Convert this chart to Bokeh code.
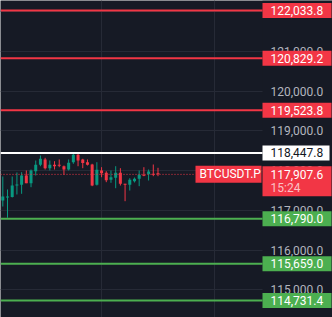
from bokeh.plotting import figure
from bokeh.models import Range1d, FixedTicker, Grid
from bokeh.embed import file_html
from bokeh.resources import INLINE
from bokeh.core.properties import value

# ---- data ----
opens = [117250, 117325, 117338, 117627, 117645, 117879, 117685, 117987, 118149, 118282,
         118063, 118149, 118150, 118113, 118030, 118214, 118400, 118282, 118214, 118156,
         117645, 118005, 117947, 117773, 117821, 117947, 117670, 117645, 117736, 117796,
         117897, 117912, 117922, 117935]
highs = [117854, 117527, 117854, 117955, 117962, 118005, 118030, 118257, 118383, 118325,
         118257, 118239, 118282, 118131, 118282, 118426, 118466, 118300, 118282, 118174,
         118214, 118088, 117987, 118005, 118113, 118063, 117670, 117811, 117828, 118005,
         118088, 118030, 118156, 118073]
lows = [117098, 116815, 117325, 117401, 117418, 117685, 117584, 117879, 118113, 118030,
        118005, 118030, 118088, 117897, 118005, 118174, 118113, 118063, 118131, 117610,
        117627, 117836, 117711, 117695, 117559, 117627, 117232, 117501, 117703, 117610,
        117862, 117753, 117862, 117862]
closes = [117350, 117350, 117627, 117652, 117879, 117685, 118005, 118149, 118300, 118063,
          118149, 118113, 118125, 118030, 118199, 118400, 118257, 118194, 118149, 117627,
          118023, 117937, 117761, 117836, 117947, 117670, 117645, 117771, 117796, 117897,
          117872, 117980, 117897, 117907.6]

resistance_levels = [122033.8, 120829.2, 119523.8]
pivot_levels = [118447.8]
support_levels = [116790.0, 115659.0, 114731.4]
last_price = 117907.6
symbol = "BTCUSDT.P"
countdown = "15:24"
tick_values = [115000, 116000, 117000, 118000, 119000, 120000, 121000, 122000]
tick_labels = [f"{v:,.1f}" for v in tick_values]
session_breaks = [21, 45]

# ---- style / layout ----
W, H = 332, 317
BG = "#161A25"
GRID = "#262A36"
RED = "#F23645"
GREEN = "#4CAF50"
UP = "#089981"
DOWN = "#F23645"
TICK_TXT = "#B2B5BE"
FONT = value("Roboto")

BAR_PX = 4.703
FIRST_PX = 2.3
Y_TOP = 122285.6
Y_BOT = 114303.5
PPX = (Y_TOP - Y_BOT) / H
X0 = -FIRST_PX / BAR_PX
X1 = X0 + W / BAR_PX


def px_x(px):
    return X0 + px / BAR_PX


AXIS_X0 = px_x(262)

p = figure(width=W, height=H, x_range=Range1d(X0, X1), y_range=Range1d(Y_BOT, Y_TOP),
           output_backend="svg", toolbar_location=None,
           x_axis_location=None, y_axis_location=None, min_border=0,
           background_fill_color=BG, border_fill_color=BG, outline_line_color=None)
for g in p.grid:
    g.visible = False
p.add_layout(Grid(dimension=0, ticker=FixedTicker(ticks=session_breaks),
                  grid_line_color=GRID, grid_line_width=1), "center")
p.add_layout(Grid(dimension=1, ticker=FixedTicker(ticks=tick_values),
                  grid_line_color=GRID, grid_line_width=1), "center")

# price-scale area (covers grid)
p.quad(left=[AXIS_X0], right=[X1], bottom=[Y_BOT], top=[Y_TOP], fill_color=BG, line_color=None)

# tick labels
p.text(x=[px_x(270)] * len(tick_values), y=tick_values, text=tick_labels,
       text_color=TICK_TXT, text_font=FONT, text_font_size="12px",
       text_align="left", text_baseline="middle")

# candles
idx = list(range(len(opens)))
colors = [UP if c >= o else DOWN for o, c in zip(opens, closes)]
p.segment(x0=idx, y0=lows, x1=idx, y1=highs, line_color=colors, line_width=1)
p.vbar(x=idx, width=0.64, top=[max(o, c) for o, c in zip(opens, closes)],
       bottom=[min(o, c) for o, c in zip(opens, closes)],
       fill_color=colors, line_color=None)

# level lines and labels
groups = [(resistance_levels, RED, "white"), (pivot_levels, "white", "#131722"),
          (support_levels, GREEN, "white")]
for levels, col, txt in groups:
    n = len(levels)
    p.segment(x0=[X0] * n, y0=levels, x1=[AXIS_X0] * n, y1=levels, line_color=col, line_width=2)
    bw = 67 if col == "white" else 69
    p.rect(x=[px_x(262 + bw / 2)] * n, y=levels, width=bw, height=15,
           width_units="screen", height_units="screen", fill_color=col, line_color=None)
    p.text(x=[px_x(270)] * n, y=levels, text=[f"{v:,.1f}" for v in levels],
           text_color=txt, text_font=FONT, text_font_size="12px",
           text_align="left", text_baseline="middle")

# last price
p.segment(x0=[X0], y0=[last_price], x1=[px_x(195)], y1=[last_price],
          line_color=RED, line_width=1, line_dash="1 2")
p.rect(x=[px_x(228)], y=[last_price], width=66, height=17,
       width_units="screen", height_units="screen", fill_color=RED, line_color=None)
p.text(x=[px_x(199)], y=[last_price], text=[symbol], text_color="white",
       text_font=FONT, text_font_size="12px", text_align="left", text_baseline="middle")
p.quad(left=[AXIS_X0], right=[px_x(331)], top=[last_price + 8 * PPX],
       bottom=[last_price - 22 * PPX], fill_color=RED, line_color=None)
p.text(x=[px_x(270)], y=[last_price], text=[f"{last_price:,.1f}"], text_color="white",
       text_font=FONT, text_font_size="12px", text_align="left", text_baseline="middle")
p.text(x=[px_x(270)], y=[last_price - 13.5 * PPX], text=[countdown], text_color="white",
       text_alpha=0.7, text_font=FONT, text_font_size="12px",
       text_align="left", text_baseline="middle")

open("out.html", "w").write(file_html(p, INLINE))
